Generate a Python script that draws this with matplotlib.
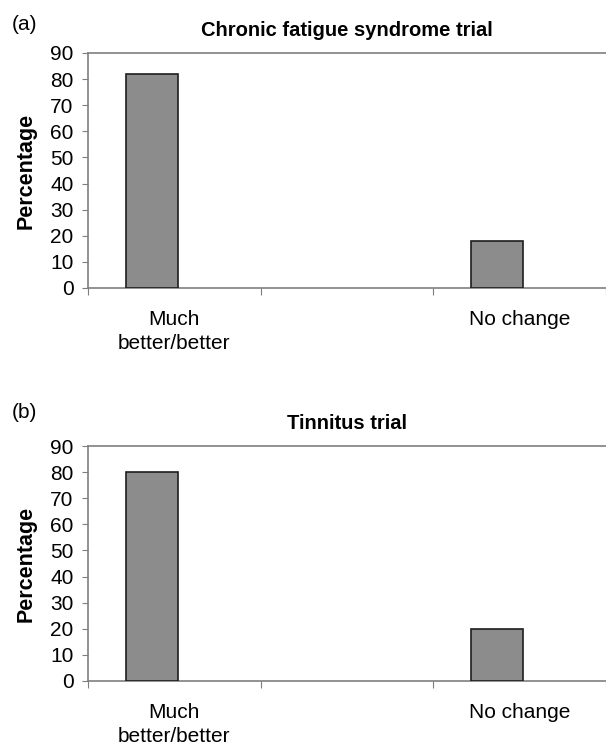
"""Two-panel bar chart: patient-reported outcome after the CFS and tinnitus trials."""

import matplotlib

matplotlib.use("Agg")
import matplotlib.pyplot as plt
import numpy as np

plt.rcParams["font.family"] = ["Liberation Sans", "DejaVu Sans"]

# 3 category slots, middle one left empty (as in the original Excel chart)
categories = ["Much\nbetter/better", "", "No change"]
cfs_pct = [82, None, 18]
tinnitus_pct = [80, None, 20]

panel_letters = ["(a)", "(b)"]
panel_titles = ["Chronic fatigue syndrome trial", "Tinnitus trial"]
y_ticks = list(range(0, 91, 10))

BAR_FACE = "#8c8c8c"
BAR_EDGE = "#1e1e1e"
AXIS_GREY = "#7f7f7f"

W, H = 606, 749


def draw_panel(ax, values, title):
    x = np.arange(len(categories))
    keep = [i for i, v in enumerate(values) if v is not None]
    ax.bar(x[keep] - 0.13, [values[i] for i in keep], width=0.30,
           color=BAR_FACE, edgecolor=BAR_EDGE, linewidth=1.2, zorder=3)

    ax.set_xlim(-0.5, len(categories) - 0.5)
    ax.set_ylim(0, 90)
    ax.set_yticks(y_ticks)

    # labels sit in the middle of each slot, tick marks on slot boundaries
    ax.set_xticks(x)
    ax.set_xticklabels(categories, fontsize=15, linespacing=1.3)
    ax.set_xticks(np.arange(len(categories) + 1) - 0.5, minor=True)
    ax.tick_params(axis="x", which="major", length=0, pad=16)
    ax.tick_params(axis="x", which="minor", length=5, width=0.8,
                   color=AXIS_GREY, direction="out")
    ax.tick_params(axis="y", length=4.5, width=0.8, color=AXIS_GREY,
                   labelsize=15, pad=6)

    for side in ("left", "bottom", "top"):
        ax.spines[side].set_color(AXIS_GREY)
        ax.spines[side].set_linewidth(1.2)
    ax.spines["right"].set_color("#e6e6e6")
    ax.spines["right"].set_linewidth(0.8)

    ax.set_ylabel("Percentage", fontsize=15.5, fontweight="bold", labelpad=10)
    ax.set_title(title, fontsize=14.5, fontweight="bold", pad=12)


def main():
    fig = plt.figure(figsize=(W / 100, H / 100), dpi=100)

    # axes boxes in pixels: left, top, right, bottom
    boxes = [(88, 53, 606, 288), (88, 446, 606, 681)]
    letter_y = [25, 412]
    series = [cfs_pct, tinnitus_pct]

    for box, ly, vals, letter, title in zip(boxes, letter_y, series,
                                            panel_letters, panel_titles):
        l, t, r, b = box
        ax = fig.add_axes([l / W, 1 - b / H, (r - l) / W, (b - t) / H])
        draw_panel(ax, vals, title)
        fig.text(12 / W, 1 - ly / H, letter, fontsize=15, va="center")

    fig.savefig("out.png", dpi=100)
    plt.close(fig)


if __name__ == "__main__":
    main()
